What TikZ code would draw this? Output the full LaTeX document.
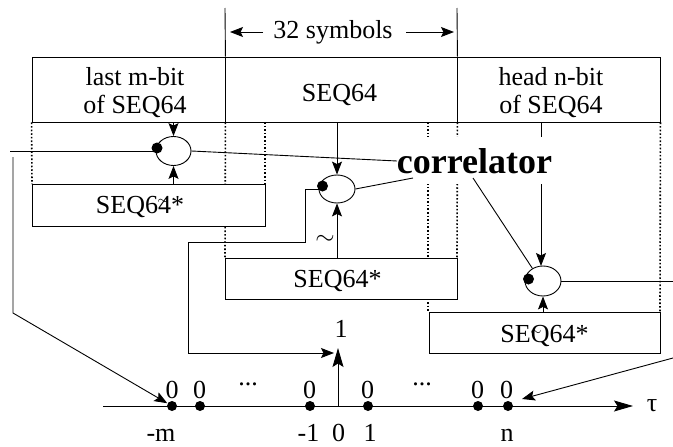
\documentclass[tikz,border=0pt]{standalone}
\usepackage{fontspec}
\setmainfont{Liberation Serif}
\usetikzlibrary{arrows.meta,shapes.geometric}
\begin{document}
\begin{tikzpicture}[x=1pt,y=-1pt,
  every path/.style={line width=0.9pt},
  box/.style={draw, fill=white, rectangle, inner sep=0pt, minimum height=41pt},
  dotline/.style={line width=1.6pt, dash pattern=on 1.6pt off 2pt},
  mult/.style={draw, ellipse, inner sep=0pt},
  arr/.style={-{Stealth[length=13pt,width=10pt,inset=2.5pt]}},
  bigarr/.style={-{Stealth[length=19pt,width=11pt,inset=3.5pt]}},
  lbl/.style={font=\fontsize{26}{28}\selectfont, inner sep=0pt},
  small/.style={font=\fontsize{15}{16}\selectfont, inner sep=0pt},
  bdot/.style={circle, fill=black, inner sep=0pt, minimum size=11pt},
  adot/.style={circle, fill=black, inner sep=0pt, minimum size=10pt}]
\useasboundingbox (0,0) rectangle (673,447);

% boxes (positions only, drawn later)
\path (128.5,89.5) node[box, minimum width=193pt, minimum height=65pt] (b1) {};
\path (341,89.5) node[box, minimum width=232pt, minimum height=65pt] (b2) {};
\path (558.5,89.5) node[box, minimum width=203pt, minimum height=65pt] (b3) {};

% dotted guides
\draw[dotline] (b1.south west) -- (32,184);
\draw[dotline] (b1.south east) -- (225,258);
\draw[dotline] (265,122) -- (265,184);
\draw[dotline] (428,122) -- (428,312);
\draw[dotline] (b2.south east) -- (457,258);
\draw[dotline] (b3.south east) -- (660,312);

% top boxes
\node[box, minimum width=193pt, minimum height=65pt] (b1) at (128.5,89.5) {};
\node[box, minimum width=232pt, minimum height=65pt] (b2) at (341,89.5) {};
\node[box, minimum width=203pt, minimum height=65pt] (b3) at (558.5,89.5) {};
\node[lbl, align=center, anchor=north] at (135,67) {last m-bit\\of SEQ64};
\node[lbl, anchor=base] at (339.5,101) {SEQ64};
\node[lbl, align=center, anchor=north] at (551,67) {head n-bit\\of SEQ64};

% SEQ64* boxes
\node[box, minimum width=233pt, minimum height=42pt] (s1) at (148.5,205) {};
\node[box, minimum width=232pt] (s2) at (341,278.5) {};
\node[box, minimum width=231pt] (s3) at (544.5,332.5) {};
\node[lbl, anchor=base] at (140,213) {SEQ64*};
\node[lbl, anchor=base] at (337.5,287) {SEQ64*};
\node[lbl, anchor=base] at (544.5,342) {SEQ64*};
\node[small] at (163,202) {$\sim$};
\node[small] at (536,333) {$\sim$};

% 32 symbols
\draw (b1.north east) -- (225,8);
\draw (b2.north east) -- (457,8);
\node[lbl, anchor=base] (sym) at (333,38) {32 symbols};
\coordinate (sl) at (263,32); \coordinate (sle) at (230,32);
\coordinate (sr) at (406,32); \coordinate (sre) at (454,32);
\draw[arr] (sl) -- (sle);
\draw[arr] (sr) -- (sre);

% multipliers
\node[mult, minimum width=35pt, minimum height=29pt] (e1) at (173.5,151) {};
\node[mult, minimum width=36pt, minimum height=28pt] (e2) at (337,189) {};
\node[mult, minimum width=36pt, minimum height=30pt] (e3) at (543,281) {};

% line from head box to third multiplier (interrupted by label)
\draw[arr] (541,122) -- (541,266);

% correlator label
\node[font=\bfseries\fontsize{36}{38}\selectfont, fill=white, inner xsep=1pt, inner ysep=11pt, anchor=base] (corr) at (474.5,173) {correlator};

\coordinate (c1) at (397,161);
\coordinate (c2) at (413,178);
\coordinate (c3) at (473,178);
\draw (e1.east) -- (c1);
\draw (e2.east) -- (c2);
\draw (c3) -- (e3.130);

% arrows into multipliers
\draw[arr] (e1.north |- b1.south) -- (e1.north);
\draw[arr] (e1.south |- s1.north) -- (e1.south);
\draw[arr] (e2.north |- b2.south) -- (e2.north);
\draw[arr] (e2.south |- s2.north) -- (e2.south);
\draw[arr] (e3.south |- s3.north) -- (e3.south);

% dots on multipliers
\node[bdot] (d1) at (157,148) {};
\node[bdot] (d2) at (322.5,186) {};
\node[bdot] (d3) at (528.5,279) {};

% axis
\coordinate (axs) at (103,406);
\coordinate (axe) at (633,406);
\draw[bigarr] (axs) -- (axe);
\node[lbl, anchor=center] (tau) at (652,406) {τ};
\node[adot] (pm) at (172,406) {};
\node[adot] (pm1) at (200,406) {};
\node[adot] (pneg) at (310,406) {};
\node[adot] (pp1) at (368,406) {};
\node[adot] (pn1) at (478,406) {};
\node[adot] (pn) at (508,406) {};
\foreach \x in {172,199.5,309.5,367.5,477.5,506.5}
  \node[lbl, anchor=base] at (\x,398) {0};
\node[lbl, anchor=base] at (248,385) {...};
\node[lbl, anchor=base] at (422,385) {...};
\node[lbl, anchor=base] at (161,441) {-m};
\node[lbl, anchor=base] at (308.5,441) {-1};
\node[lbl, anchor=base] at (338.5,441) {0};
\node[lbl, anchor=base] at (370,441) {1};
\node[lbl, anchor=base] at (507,441) {n};
\coordinate (z0) at (338,406);
\coordinate (z1) at (338,348);
\draw[bigarr] (z0) -- (z1);
\node[lbl, anchor=base] at (341,337) {1};

% input line to first multiplier
\coordinate (in1) at (10,151);
\draw (in1) -- (e1.west);
\coordinate (L1) at (13,157);
\coordinate (L2) at (13,313);
\draw[arr] (L1) -- (L2) -- (pm);

% input to second multiplier and path to delta
\coordinate (q1) at (305,189);
\coordinate (q2) at (305,242);
\coordinate (q3) at (188,242);
\coordinate (q4) at (188,353);
\coordinate (q5) at (334,353);
\draw (e2.west) -- (q1) -- (q2) -- (q3) -- (q4);
\draw[arr] (q4) -- (q5);
\node[font=\fontsize{30}{30}\selectfont, inner sep=0pt] at (325,240) {$\sim$};

% output of third multiplier and return arrow
\coordinate (o3) at (673,281);
\draw (e3.east) -- (o3);
\coordinate (r1) at (673,358);
\coordinate (r2) at (522,399);
\draw[arr] (r1) -- (r2);
\end{tikzpicture}
\end{document}
